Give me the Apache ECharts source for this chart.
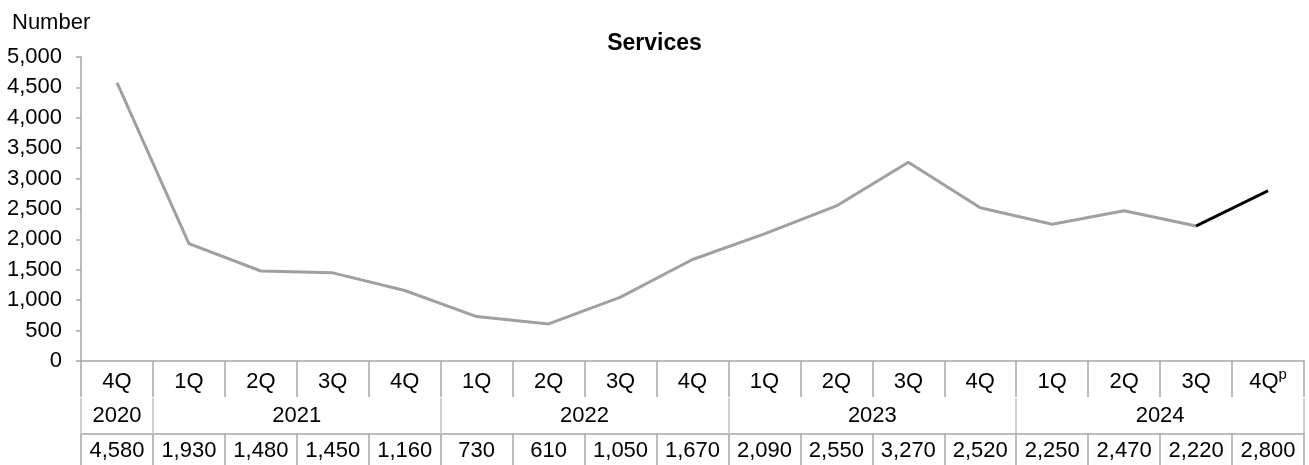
<!DOCTYPE html>
<html>
<head>
<meta charset="utf-8">
<script src="https://cdn.jsdelivr.net/npm/echarts@6/dist/echarts.min.js"></script>
<style>
  html, body { margin: 0; padding: 0; background: #ffffff; }
  #chart { width: 1309px; height: 465px; }
</style>
</head>
<body>
<div id="chart"></div>
<script>
// Quarterly counts for services, 4Q 2020 to 4Q 2024 (last quarter provisional)
const quarters = ['4Q', '1Q', '2Q', '3Q', '4Q', '1Q', '2Q', '3Q', '4Q', '1Q', '2Q', '3Q', '4Q', '1Q', '2Q', '3Q', '4Q'];
const quarterNotes = ['', '', '', '', '', '', '', '', '', '', '', '', '', '', '', '', 'p'];
const years = ['2020', '2021', '2022', '2023', '2024'];
const yearSpans = [1, 4, 4, 4, 4];
const values = [4580, 1930, 1480, 1450, 1160, 730, 610, 1050, 1670, 2090, 2550, 3270, 2520, 2250, 2470, 2220, 2800];
const provisionalFrom = 15;   // segment from this point onward is drawn in black
const yMin = 0, yMax = 5000, yStep = 500;

const FONT = '"Liberation Sans", Arial, sans-serif';
const FS = 22;
const GRID_LINE = '#a6a6a6';
const fmt = v => Number(v).toLocaleString('en-US');

// Year group boundaries and centres along a 0..N value scale
const yearEdges = [0];
yearSpans.forEach(s => yearEdges.push(yearEdges[yearEdges.length - 1] + s));
const yearMids = years.map((_, i) => (yearEdges[i] + yearEdges[i + 1]) / 2);

const quarterLabels = quarters.map((q, i) => quarterNotes[i] ? q + '{sup|' + quarterNotes[i] + '}' : q);

const chart = echarts.init(document.getElementById('chart'), null, { renderer: 'canvas' });

chart.setOption({
  animation: false,
  title: [
    { text: 'Services', left: 'center', top: 27,
      textStyle: { fontFamily: FONT, fontSize: 23, fontWeight: 'bold', color: '#000' } },
    { text: 'Number', left: 7, top: 7,
      textStyle: { fontFamily: FONT, fontSize: FS, fontWeight: 'normal', color: '#000' } }
  ],
  grid: { left: 81, right: 5, top: 57, bottom: 104, containLabel: false },
  xAxis: [
    {
      type: 'category', data: quarterLabels, position: 'bottom', boundaryGap: true,
      axisLine: { show: true, lineStyle: { color: GRID_LINE, width: 1.5 } },
      axisTick: { show: true, length: 36, interval: 0, lineStyle: { color: GRID_LINE, width: 1.5 } },
      axisLabel: {
        interval: 0, margin: 9, color: '#000', fontFamily: FONT, fontSize: FS, lineHeight: 24,
        rich: { sup: { fontFamily: FONT, fontSize: 15, height: 9, verticalAlign: 'top', color: '#000' } }
      }
    },
    {
      type: 'value', min: 0, max: quarters.length, position: 'bottom', offset: 37,
      axisLine: { show: false },
      splitLine: { show: false },
      axisTick: { show: true, length: 36, customValues: yearEdges, lineStyle: { color: '#c4c4c4', width: 1.5 } },
      axisLabel: {
        customValues: yearMids, margin: 7, color: '#000', fontFamily: FONT, fontSize: FS,
        formatter: v => { const i = yearMids.indexOf(v); return i >= 0 ? years[i] : ''; }
      }
    },
    {
      type: 'category', data: values.map(fmt), position: 'bottom', offset: 73, boundaryGap: true,
      axisLine: { show: true, lineStyle: { color: GRID_LINE, width: 1.5 } },
      axisTick: { show: true, length: 40, interval: 0, lineStyle: { color: GRID_LINE, width: 1.5 } },
      axisLabel: { interval: 0, margin: 6, color: '#000', fontFamily: FONT, fontSize: FS }
    }
  ],
  yAxis: {
    type: 'value', min: yMin, max: yMax, interval: yStep,
    axisLine: { show: true, lineStyle: { color: GRID_LINE, width: 1.5 } },
    axisTick: { show: true, length: 5, lineStyle: { color: GRID_LINE, width: 1.5 } },
    splitLine: { show: false },
    axisLabel: { margin: 19, color: '#000', fontFamily: FONT, fontSize: FS, formatter: v => fmt(v) }
  },
  series: [
    {
      type: 'line', xAxisIndex: 0, yAxisIndex: 0, data: values,
      symbol: 'none', lineStyle: { color: '#a0a0a0', width: 3 }, z: 2
    },
    {
      type: 'line', xAxisIndex: 0, yAxisIndex: 0,
      data: values.map((v, i) => i >= provisionalFrom ? v : '-'),
      symbol: 'none', lineStyle: { color: '#000000', width: 3 }, z: 3
    }
  ]
});
</script>
</body>
</html>
